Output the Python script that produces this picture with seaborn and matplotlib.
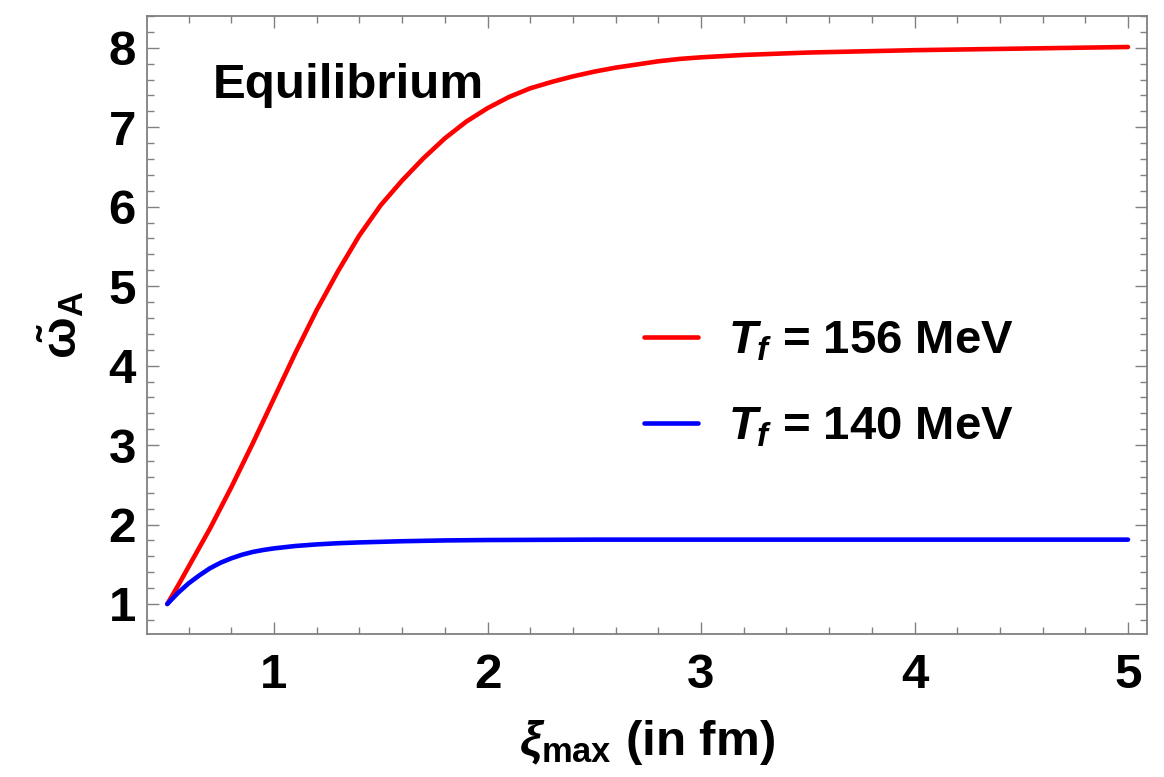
import matplotlib
matplotlib.use("Agg")
import matplotlib.pyplot as plt
import seaborn as sns
from matplotlib.ticker import MultipleLocator

# Red curve: T_f = 156 MeV
red_x = [0.5, 0.55, 0.6, 0.7, 0.8, 0.9, 1.0, 1.1, 1.2, 1.3, 1.4, 1.5, 1.6, 1.7, 1.8, 1.9,
         2.0, 2.1, 2.2, 2.3, 2.4, 2.5, 2.6, 2.7, 2.8, 2.9, 3.0, 3.2, 3.5, 4.0, 4.5, 5.0]
red_y = [1.0, 1.23, 1.47, 1.95, 2.47, 3.02, 3.59, 4.16, 4.70, 5.19, 5.64, 6.02, 6.33, 6.61, 6.86, 7.07,
         7.24, 7.38, 7.49, 7.57, 7.64, 7.70, 7.75, 7.79, 7.83, 7.86, 7.88, 7.91, 7.94, 7.97, 7.99, 8.01]

# Blue curve: T_f = 140 MeV
blue_x = [0.5, 0.55, 0.6, 0.65, 0.7, 0.75, 0.8, 0.85, 0.9, 0.95, 1.0, 1.1, 1.2, 1.3, 1.4,
          1.6, 1.8, 2.0, 2.5, 3.0, 4.0, 5.0]
blue_y = [1.0, 1.14, 1.26, 1.36, 1.45, 1.52, 1.575, 1.62, 1.655, 1.68, 1.70, 1.73, 1.75, 1.765, 1.775,
          1.79, 1.80, 1.805, 1.81, 1.81, 1.81, 1.81]

series_labels = [r"$T_f$ = 156 MeV", r"$T_f$ = 140 MeV"]

sns.set_style("ticks")
plt.rcParams["font.family"] = ["Liberation Sans", "DejaVu Sans"]
plt.rcParams["font.weight"] = "bold"
plt.rcParams["text.color"] = "black"
plt.rcParams["axes.labelcolor"] = "black"
plt.rcParams["mathtext.fontset"] = "custom"
plt.rcParams["mathtext.rm"] = "Liberation Sans:bold"
plt.rcParams["mathtext.it"] = "Liberation Sans:italic:bold"
plt.rcParams["mathtext.bf"] = "Liberation Sans:bold"

fig = plt.figure(figsize=(11.64, 7.77), dpi=100)
ax = fig.add_axes([0.1263, 0.184, 0.8591, 0.7954])

sns.lineplot(x=red_x, y=red_y, color="#ff0000", lw=3.3, label=series_labels[0], ax=ax)
sns.lineplot(x=blue_x, y=blue_y, color="#0000ff", lw=3.3, label=series_labels[1], ax=ax)

ax.set_xlim(0.405, 5.089)
ax.set_ylim(0.622, 8.40)
ax.xaxis.set_major_locator(MultipleLocator(1))
ax.xaxis.set_minor_locator(MultipleLocator(0.2))
ax.yaxis.set_major_locator(MultipleLocator(1))
ax.yaxis.set_minor_locator(MultipleLocator(0.2))

frame = "#808080"
for sp in ax.spines.values():
    sp.set_visible(True)
    sp.set_color(frame)
    sp.set_linewidth(1.3)
ax.tick_params(which="both", direction="in", top=True, right=True, color=frame, width=1.0,
               labelsize=35.5, labelcolor="black")
ax.tick_params(which="major", length=8.5)
ax.tick_params(which="minor", length=5)
ax.tick_params(axis="x", pad=14)
ax.tick_params(axis="y", pad=8)

ax.set_xlabel(r"$\xi_{\mathrm{max}}$ (in fm)", fontsize=35.5, fontweight="bold", labelpad=14)
ax.set_ylabel(r"$\tilde{\mathrm{\omega}}_{\mathrm{A}}$", fontsize=35.5, labelpad=16)

ax.text(0.066, 0.867, "Equilibrium", transform=ax.transAxes, fontsize=35.5,
        fontweight="bold", va="baseline", ha="left", color="black")

ax.legend(loc="center left", bbox_to_anchor=(0.497, 0.404), frameon=False, fontsize=34,
          handlelength=1.15, handletextpad=0.62, borderpad=0, borderaxespad=0, labelspacing=0.9)

fig.savefig("out.png", dpi=100)
